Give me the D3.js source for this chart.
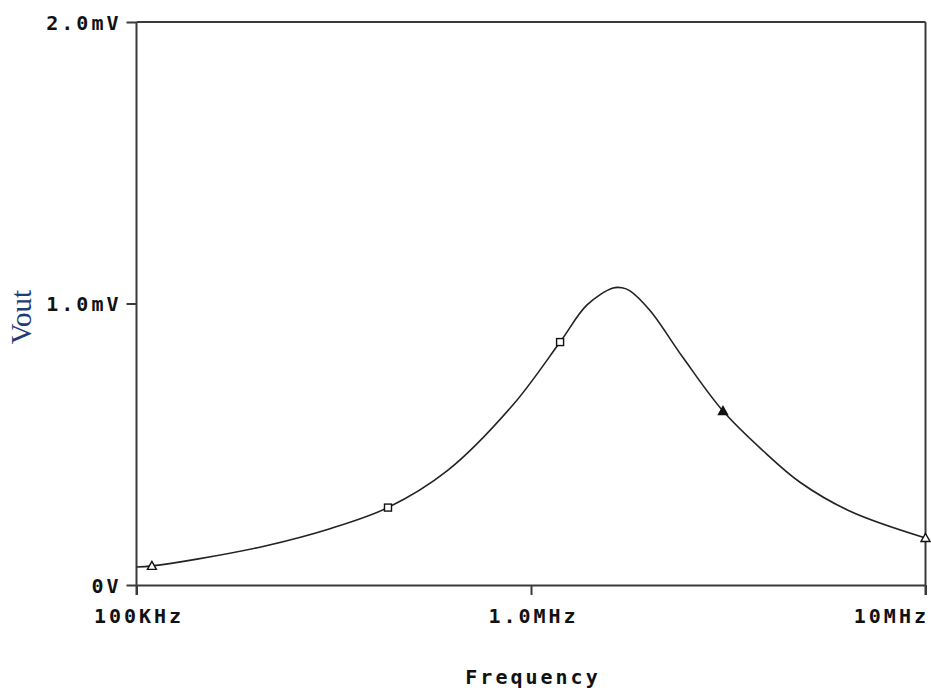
<!DOCTYPE html>
<html>
<head>
<meta charset="utf-8">
<script src="https://cdn.jsdelivr.net/npm/d3@7"></script>
<style>
  html, body { margin: 0; padding: 0; background: #fff; }
  svg { display: block; }
  text.tick-label { font-family: "DejaVu Sans Mono", monospace; font-weight: bold; font-size: 20px; letter-spacing: 3px; fill: #111; }
</style>
</head>
<body>
<svg id="chart" width="931" height="695"></svg>
<script>
// Frequency (Hz) and Vout (mV)
const freqs = [100e3, 109.4e3, 142.4e3, 209.3e3, 309.4e3, 434e3, 612.6e3, 900.5e3, 1.185e6, 1.387e6, 1.614e6, 1.701e6, 1.782e6, 2.003e6, 2.428e6, 3.067e6, 3.874e6, 4.808e6, 6.44e6, 10e6];
const vout  = [0.064, 0.068, 0.092, 0.137, 0.200, 0.275, 0.405, 0.640, 0.863, 0.995, 1.055, 1.056, 1.045, 0.975, 0.808, 0.618, 0.477, 0.365, 0.262, 0.167];

const markerFreqs  = [109.4e3, 434e3, 1.185e6, 3.067e6, 10e6];
const markerValues = [0.068, 0.275, 0.863, 0.618, 0.167];
const markerShapes = ["triangle", "square", "square", "triangleFilled", "triangle"];

const xTickValues = [1e5, 1e6, 1e7];
const xTickLabels = ["100KHz", "1.0MHz", "10MHz"];
const yTickValues = [0, 1, 2];
const yTickLabels = ["0V", "1.0mV", "2.0mV"];

const xTitle = "Frequency";
const yTitle = "Vout";

const svg = d3.select("#chart");
const L = 136.5, R = 925.5, T = 22, B = 585;

const x = d3.scaleLog().domain([1e5, 1e7]).range([L, R]);
const y = d3.scaleLinear().domain([0, 2]).range([B, T]);

const axisColor = "#3a3a3a";

// frame: top and right
svg.append("line").attr("x1", L).attr("x2", R).attr("y1", T).attr("y2", T)
  .attr("stroke", axisColor).attr("stroke-width", 2);
svg.append("line").attr("x1", R).attr("x2", R).attr("y1", T).attr("y2", B + 10)
  .attr("stroke", axisColor).attr("stroke-width", 2);

// x axis
const xAxis = d3.axisBottom(x).tickValues(xTickValues)
  .tickFormat((d, i) => xTickLabels[i]).tickSize(10).tickSizeOuter(0);
const gx = svg.append("g").attr("transform", `translate(0,${B})`).call(xAxis);
gx.select(".domain").attr("stroke", axisColor).attr("stroke-width", 2);
gx.selectAll(".tick line").attr("stroke", axisColor).attr("stroke-width", 2);
gx.selectAll(".tick text").attr("class", "tick-label").attr("y", 38).attr("dy", 0)
  .attr("text-anchor", (d, i) => i === xTickValues.length - 1 ? "end" : "middle")
  .attr("dx", (d, i) => i === xTickValues.length - 1 ? 3 : 2);

// y axis
const yAxis = d3.axisLeft(y).tickValues(yTickValues)
  .tickFormat((d, i) => yTickLabels[i]).tickSize(10).tickSizeOuter(0);
const gy = svg.append("g").attr("transform", `translate(${L},0)`).call(yAxis);
gy.select(".domain").attr("stroke", axisColor).attr("stroke-width", 2)
  .attr("d", `M0,${T}V${B + 10}`);
gy.selectAll(".tick line").attr("stroke", axisColor).attr("stroke-width", 2);
gy.selectAll(".tick text").attr("class", "tick-label").attr("x", -15).attr("dy", "0.36em");

// curve
const pts = freqs.map((f, i) => [f, vout[i]]);
const line = d3.line().x(d => x(d[0])).y(d => y(d[1])).curve(d3.curveCatmullRom.alpha(0.5));
svg.append("path").datum(pts).attr("d", line)
  .attr("fill", "none").attr("stroke", "#222").attr("stroke-width", 1.6);

// markers
const mg = svg.append("g");
markerFreqs.forEach((f, i) => {
  const cx = x(f), cy = y(markerValues[i]);
  const s = markerShapes[i];
  if (s === "square") {
    mg.append("rect").attr("x", cx - 3.5).attr("y", cy - 3.5).attr("width", 7).attr("height", 7)
      .attr("fill", "#fff").attr("stroke", "#111").attr("stroke-width", 1.4);
  } else {
    mg.append("path").attr("d", `M${cx},${cy - 4.5}L${cx + 4.5},${cy + 3.5}L${cx - 4.5},${cy + 3.5}Z`)
      .attr("fill", s === "triangleFilled" ? "#111" : "#fff")
      .attr("stroke", "#111").attr("stroke-width", 1.4);
  }
});

// titles
svg.append("text").attr("class", "tick-label")
  .attr("x", (L + R) / 2 + 2).attr("y", 684).attr("text-anchor", "middle").text(xTitle);

svg.append("text")
  .attr("transform", "translate(31,317) rotate(-90)")
  .attr("text-anchor", "middle")
  .attr("font-family", "'Liberation Serif', 'Times New Roman', serif")
  .attr("font-size", 29).attr("fill", "#1f3a78")
  .text(yTitle);
</script>
</body>
</html>
